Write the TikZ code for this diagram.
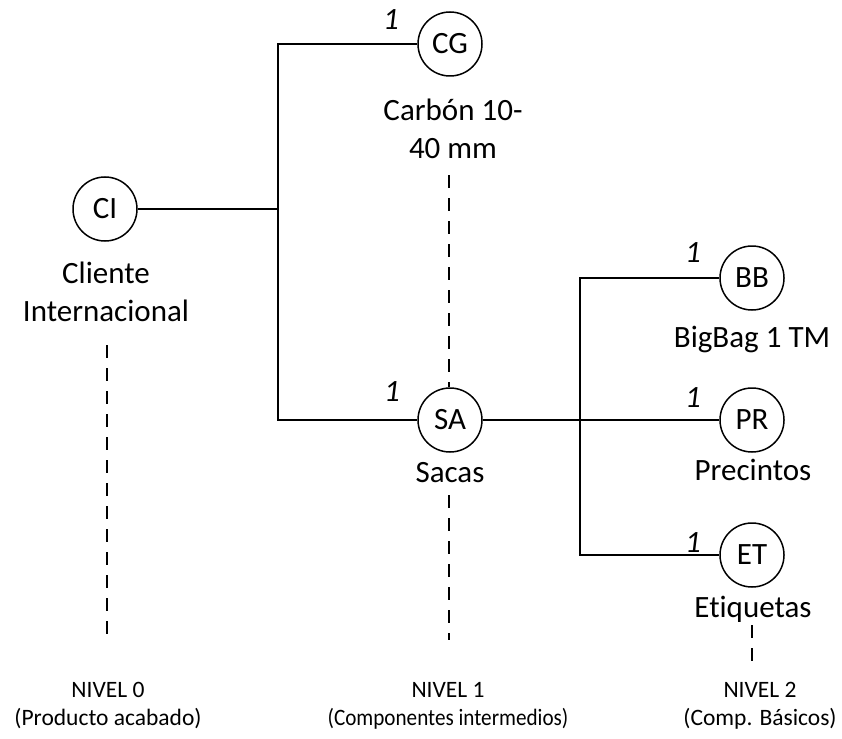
\documentclass[tikz,border=0pt]{standalone}
\usepackage{fontspec}
\setmainfont[Ligatures=NoCommon]{Carlito}
\begin{document}
\begin{tikzpicture}[x=1pt,y=-1pt,
  item/.style={circle,draw,line width=1.5pt,minimum size=64pt,inner sep=0pt,
    font=\fontsize{31}{37.8}\selectfont},
  partname/.style={font=\fontsize{31}{37.8}\selectfont,align=center,anchor=base,inner sep=0pt},
  qty/.style={font=\fontsize{31}{37.8}\selectfont\itshape,anchor=base,inner sep=0pt},
  level/.style={font=\fontsize{23.5}{28}\selectfont,align=center,anchor=base,inner sep=0pt},
  link/.style={line width=1.5pt},
  guide/.style={line width=1.2pt,dash pattern=on 13pt off 10pt}]
\useasboundingbox (0,0) rectangle (842,738);

% components
\node[item] (CI) at (105,209) {CI};
\node[item] (CG) at (450,44) {CG};
\node[item] (SA) at (450,420) {SA};
\node[item] (BB) at (752,278) {BB};
\node[item] (PR) at (752,420) {PR};
\node[item] (ET) at (752,555) {ET};

% component names (base anchor sits on the last line)
\node[partname] (CIname) at (106,321) {Cliente\\Internacional};
\node[partname] (CGname) at (453,158) {Carbón 10-\\40 mm};
\node[partname] (SAname) at (450,482) {Sacas};
\node[partname] (BBname) at (752,347) {BigBag 1 TM};
\node[partname] (PRname) at (753,480) {Precintos};
\node[partname] (ETname) at (753,617) {Etiquetas};

% quantities
\node[qty] (qCG) at (391,30) {1};
\node[qty] (qSA) at (392,401) {1};
\node[qty] (qBB) at (693,262) {1};
\node[qty] (qPR) at (693,407) {1};
\node[qty] (qET) at (693,552) {1};

% levels
\node[level] (L0) at (108,725) {NIVEL 0\\(Producto acabado)};
\node[level] (L1) at (448,725) {NIVEL 1\\\scalebox{0.9}[1]{(Componentes intermedios)}};
\node[level] (L2) at (760,725) {NIVEL 2\\(Comp. Básicos)};

% tree structure
\coordinate (j1) at (278,209);
\coordinate (j2) at (580,420);
\draw[link] (CI.east) -- (j1);
\draw[link] (CG.west) -| (j1) |- (SA.west);
\draw[link] (SA.east) -- (PR.west);
\draw[link] (BB.west) -| (j2) |- (ET.west);

% level guides
\coordinate (g0) at (107,640);
\coordinate (g1) at (449,640);
\coordinate (g2) at (752,662);
\draw[guide] (107,345) -- (g0);
\draw[guide] (449,175) -- (SA.north -| g1);
\draw[guide] (449,495) -- (g1);
\draw[guide] (752,625) -- (g2);
\end{tikzpicture}
\end{document}
